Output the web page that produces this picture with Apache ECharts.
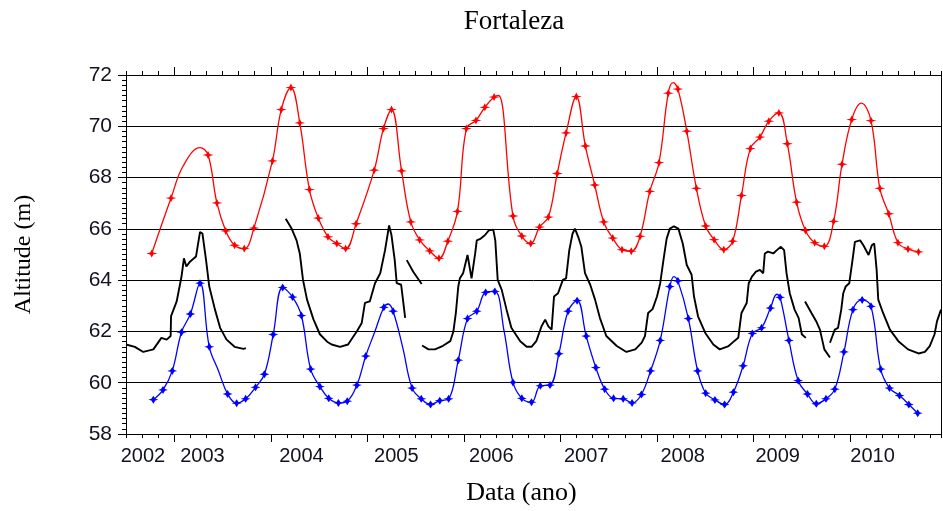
<!DOCTYPE html>
<html>
<head>
<meta charset="utf-8">
<script src="https://cdn.jsdelivr.net/npm/echarts@6/dist/echarts.min.js"></script>
<style>
html,body{margin:0;padding:0;background:#fff;}
#chart{width:943px;height:511px;}
</style>
</head>
<body>
<div id="chart"></div>
<script>
// x values: months counted from January 2002 (12 = Jan 2003, 24 = Jan 2004, ...)
const yearTickMonths = [12, 24, 36, 48, 60, 72, 84, 96];
const yearLabels = ['2002', '2003', '2004', '2005', '2006', '2007', '2008', '2009', '2010'];
const yearLabelMonths = [8.1, 15.5, 27.8, 39.6, 51.4, 63.2, 75.2, 87.0, 98.8];
const yTicks = [58, 60, 62, 64, 66, 68, 70, 72];

// red series: marked readings
const redMonths = [9.2, 11.6, 16.2, 17.3, 18.4, 19.5, 20.7, 21.9, 24.2, 25.3, 26.5, 27.6, 28.8, 29.9, 31.1, 32.2, 33.3, 34.6, 36.85, 38.0, 39.0, 40.25, 41.4, 42.5, 43.76, 44.9, 46.0, 47.2, 48.3, 49.5, 50.6, 51.75, 54.1, 55.2, 56.3, 57.4, 58.5, 59.6, 60.7, 61.97, 63.1, 64.26, 65.38, 66.5, 67.65, 68.8, 69.9, 71.1, 72.25, 73.4, 74.6, 75.7, 76.9, 78.05, 79.1, 80.3, 81.4, 82.5, 83.6, 84.8, 85.9, 87.15, 88.2, 89.35, 90.45, 91.6, 92.8, 93.95, 95.0, 96.2, 98.6, 99.7, 100.8, 101.95, 103.2, 104.5];
const redValues = [65.04, 67.2, 68.88, 67.01, 65.92, 65.36, 65.23, 66.03, 68.65, 70.65, 71.51, 70.13, 67.53, 66.42, 65.69, 65.43, 65.23, 66.2, 68.29, 69.91, 70.65, 68.26, 66.27, 65.57, 65.14, 64.85, 65.52, 66.68, 69.91, 70.23, 70.74, 71.14, 66.5, 65.72, 65.43, 66.07, 66.46, 68.16, 69.74, 71.16, 69.23, 67.71, 66.27, 65.64, 65.19, 65.13, 65.71, 67.46, 68.58, 71.29, 71.45, 69.81, 67.58, 66.11, 65.58, 65.19, 65.52, 67.3, 69.13, 69.58, 70.2, 70.52, 69.32, 67.04, 65.94, 65.46, 65.32, 66.29, 68.52, 70.26, 70.22, 67.58, 66.59, 65.46, 65.21, 65.1];
// red series: unmarked points of the curve (peaks)
const redCurveMonths = [13.1, 15.2, 52.3, 74.0, 97.4];
const redCurveValues = [68.45, 69.17, 71.2, 71.7, 70.9];

// blue series: marked readings
const blueMonths = [9.4, 10.6, 11.75, 12.9, 14.0, 15.2, 16.35, 18.63, 19.75, 20.87, 22.1, 23.2, 24.3, 25.47, 26.7, 27.8, 28.95, 30.1, 31.2, 32.4, 33.5, 34.7, 35.8, 38.05, 39.2, 41.56, 42.7, 43.85, 45.0, 46.1, 47.3, 48.45, 49.6, 50.7, 51.84, 54.1, 55.2, 56.4, 57.5, 58.7, 59.8, 60.95, 62.07, 63.2, 64.4, 65.5, 66.6, 67.8, 68.9, 70.06, 71.2, 72.4, 73.6, 74.6, 75.9, 77.05, 78.05, 79.2, 80.4, 81.5, 82.7, 83.85, 85.0, 86.1, 87.3, 88.4, 89.55, 90.7, 91.8, 93.0, 94.1, 95.24, 96.36, 97.5, 98.6, 99.8, 100.9, 102.15, 103.3, 104.4];
const blueValues = [59.34, 59.72, 60.46, 61.97, 62.68, 63.88, 61.4, 59.56, 59.2, 59.37, 59.82, 60.33, 61.88, 63.71, 63.34, 62.62, 60.53, 59.85, 59.39, 59.21, 59.28, 59.91, 61.04, 62.94, 62.79, 59.79, 59.37, 59.15, 59.3, 59.37, 60.88, 62.5, 62.79, 63.52, 63.56, 60.01, 59.39, 59.24, 59.88, 59.91, 61.13, 62.79, 63.2, 61.82, 60.59, 59.75, 59.39, 59.37, 59.21, 59.54, 60.46, 61.65, 63.75, 63.97, 62.5, 60.46, 59.59, 59.33, 59.15, 59.63, 60.66, 61.92, 62.14, 62.91, 63.33, 61.65, 60.08, 59.56, 59.18, 59.37, 59.75, 61.2, 62.85, 63.23, 62.98, 60.53, 59.79, 59.5, 59.15, 58.81];
// blue series: unmarked points of the curve
const blueCurveMonths = [17.5, 36.95, 38.6, 40.4, 53.0, 74.1, 86.9];
const blueCurveValues = [60.46, 62.01, 63.07, 61.37, 62.0, 64.14, 63.45];

// black series (dense record); null = gap in the record
const blackMonths = [6.0, 7.1, 8.15, 9.4, 10.4, 11.05, 11.55, 11.6, 12.3, 12.9, 13.2, 13.5, 13.95, 14.7, 15.2, 15.5, 15.95, 16.35, 17.06, 17.7, 18.5, 19.5, 20.6, 20.9,
  23.0,
  25.85, 26.6, 27.2, 27.6, 28.0, 28.5, 29.3, 30.1, 31.0, 31.56, 32.6, 33.6, 34.7, 35.3, 35.7, 36.3, 36.95, 37.6, 38.2, 38.7, 39.0, 39.4, 39.65, 40.2, 40.7,
  40.8,
  40.9, 41.7, 42.75,
  42.78,
  42.8, 43.6, 44.4, 45.4, 46.3, 46.7, 47.0, 47.3, 47.5, 47.9, 48.45, 48.95, 49.4, 49.6, 50.1, 50.6, 51.1, 51.65, 51.9, 52.2, 52.7, 53.3, 53.9, 55.0, 55.8, 56.4, 57.0, 57.65, 58.1, 58.5, 58.9, 59.2, 59.7, 60.3, 60.7, 61.1, 61.5, 61.8, 62.2, 62.6, 63.05, 63.7, 64.3, 64.9, 65.7, 67.0, 68.2, 69.3, 70.1, 70.5, 70.9, 71.45, 72.0, 72.4, 72.8, 73.2, 73.6, 74.1, 74.65, 75.2, 75.7, 76.3, 76.6, 77.1, 78.0, 79.0, 79.8, 80.9, 81.7, 82.1, 82.5, 83.15, 83.4, 83.8, 84.3, 84.8, 85.2, 85.4, 85.8, 86.45, 86.9, 87.4, 87.8, 88.1, 88.5, 89.1, 89.6, 90.0, 90.5,
  90.45,
  90.4, 91.2, 91.8, 92.25, 92.8, 93.5,
  93.5,
  93.5, 94.1, 94.5, 94.9, 95.15, 95.45, 95.9, 96.3, 96.6, 97.25, 97.65, 98.3, 98.7, 99.0, 99.3, 99.5, 100.1, 100.95, 102.0, 103.2, 104.5, 105.3, 105.9, 106.5, 106.8, 107.3];
const blackValues = [61.49, 61.4, 61.2, 61.3, 61.75, 61.68, 61.82, 62.6, 63.17, 64.14, 64.85, 64.53, 64.72, 64.92, 65.88, 65.82, 64.78, 63.75, 62.85, 62.14, 61.68, 61.4, 61.32, 61.35,
  null,
  66.39, 66.0, 65.55, 65.04, 64.01, 63.24, 62.47, 61.89, 61.6, 61.49, 61.4, 61.49, 62.01, 62.33, 63.11, 63.17, 63.88, 64.27, 65.17, 66.13, 65.75, 64.78, 63.88, 63.82, 62.53,
  null,
  64.78, 64.33, 63.85,
  null,
  61.45, 61.3, 61.3, 61.44, 61.62, 62.01, 62.72, 63.75, 64.07, 64.27, 64.98, 64.07, 65.04, 65.55, 65.62, 65.75, 65.94, 65.97, 65.55, 64.01, 63.62, 62.85, 62.14, 61.62, 61.4, 61.4, 61.62, 62.2, 62.46, 62.2, 62.07, 63.36, 63.49, 64.01, 64.07, 65.17, 65.81, 66.01, 65.69, 65.3, 64.27, 63.82, 63.24, 62.53, 61.82, 61.43, 61.2, 61.3, 61.56, 61.82, 62.72, 62.87, 63.36, 63.88, 64.78, 65.62, 66.01, 66.1, 66.01, 65.43, 64.59, 64.21, 63.36, 62.59, 61.94, 61.49, 61.3, 61.43, 61.65, 61.75, 62.72, 63.11, 63.88, 64.14, 64.33, 64.4, 64.27, 65.04, 65.11, 65.04, 65.17, 65.3, 65.17, 64.27, 63.49, 62.85, 62.53, 61.89, 61.75,
  null,
  63.17, 62.72, 62.39, 62.07, 61.3, 60.98,
  null,
  61.56, 62.07, 62.14, 62.85, 63.49, 63.75, 63.88, 64.78, 65.49, 65.55, 65.36, 64.98, 65.36, 65.43, 64.4, 63.24, 62.72, 62.07, 61.62, 61.3, 61.14, 61.2, 61.43, 61.89, 62.39, 62.85];

const X_MIN = 6, X_MAX = 107.3;

function mergeCurve(ms, vs, cms, cvs) {
  const a = ms.map((m, i) => ({ value: [m, vs[i]] }));
  const b = cms.map((m, i) => ({ value: [m, cvs[i]], symbol: 'none' }));
  return a.concat(b).sort((p, q) => p.value[0] - q.value[0]);
}

const labelFont = { fontFamily: 'Liberation Sans', fontSize: 20, color: '#111122' };
const axisLineStyle = { lineStyle: { color: '#000', width: 1 } };

const chart = echarts.init(document.getElementById('chart'), null, { renderer: 'canvas' });
chart.setOption({
  animation: false,
  backgroundColor: '#fff',
  title: {
    text: 'Fortaleza', left: 509, top: 3, textAlign: 'center',
    textStyle: { fontFamily: 'Liberation Serif', fontSize: 27, fontWeight: 'normal', color: '#000' }
  },
  grid: { left: 126, top: 75, right: 2, bottom: 74 },
  xAxis: [
    { type: 'value', position: 'bottom', min: X_MIN, max: X_MAX, interval: 2,
      axisLine: axisLineStyle, axisTick: { length: 4, lineStyle: { color: '#000' } },
      axisLabel: { show: false }, splitLine: { show: false },
      name: 'Data (ano)', nameLocation: 'middle', nameGap: 46,
      nameTextStyle: { fontFamily: 'Liberation Serif', fontSize: 26, color: '#000', padding: [0, 24, 0, 0] } },
    { type: 'value', position: 'bottom', min: X_MIN, max: X_MAX,
      axisLine: axisLineStyle,
      axisTick: { customValues: yearTickMonths, length: 8, lineStyle: { color: '#000' } },
      axisLabel: Object.assign({ customValues: yearLabelMonths, margin: 12,
        formatter: v => yearLabels[Math.floor(v / 12)] }, labelFont),
      splitLine: { show: false } },
    { type: 'value', position: 'top', min: X_MIN, max: X_MAX, interval: 2,
      axisLine: axisLineStyle, axisTick: { length: 4, lineStyle: { color: '#000' } },
      axisLabel: { show: false }, splitLine: { show: false } },
    { type: 'value', position: 'top', min: X_MIN, max: X_MAX,
      axisLine: axisLineStyle,
      axisTick: { customValues: yearTickMonths, length: 8, lineStyle: { color: '#000' } },
      axisLabel: { show: false }, splitLine: { show: false } }
  ],
  yAxis: [
    { type: 'value', position: 'left', min: yTicks[0], max: yTicks[yTicks.length - 1], interval: 2,
      axisLine: { show: true, lineStyle: { color: '#000', width: 1 } },
      axisTick: { show: true, length: 8, lineStyle: { color: '#000' } },
      minorTick: { show: true, splitNumber: 10, length: 4, lineStyle: { color: '#000' } },
      axisLabel: Object.assign({ margin: 14 }, labelFont, { fontSize: 21 }),
      splitLine: { show: true, lineStyle: { color: '#000', width: 1 } },
      name: 'Altitude (m)', nameLocation: 'middle', nameGap: 90, nameRotate: 90,
      nameTextStyle: { fontFamily: 'Liberation Serif', fontSize: 24, color: '#000' } },
    { type: 'value', position: 'right', min: yTicks[0], max: yTicks[yTicks.length - 1],
      axisLine: { show: true, lineStyle: { color: '#000', width: 1 } },
      axisTick: { show: false }, axisLabel: { show: false }, splitLine: { show: false } }
  ],
  series: [
    { name: 'black', type: 'line', xAxisIndex: 0, yAxisIndex: 0,
      data: blackMonths.map((m, i) => [m, blackValues[i] === null ? '-' : blackValues[i]]),
      showSymbol: false, connectNulls: false,
      lineStyle: { color: '#000', width: 1.9 }, itemStyle: { color: '#000' } },
    { name: 'red', type: 'line', xAxisIndex: 0, yAxisIndex: 0,
      data: mergeCurve(redMonths, redValues, redCurveMonths, redCurveValues),
      smooth: 0.4, showSymbol: true,
      symbol: 'path://M0,5L3.5,4.2L5,1.5L6.5,4.2L10,5L6.5,5.8L5,8.5L3.5,5.8Z', symbolSize: [11, 8],
      lineStyle: { color: '#ff0000', width: 1.3 }, itemStyle: { color: '#ff0000' } },
    { name: 'blue', type: 'line', xAxisIndex: 0, yAxisIndex: 0,
      data: mergeCurve(blueMonths, blueValues, blueCurveMonths, blueCurveValues),
      smooth: 0.4, showSymbol: true,
      symbol: 'path://M0,5L3,4L5,0.5L7,4L10,5L7,6L5,9.5L3,6Z', symbolSize: [10, 8],
      lineStyle: { color: '#0000ff', width: 1.3 }, itemStyle: { color: '#0000ff' } }
  ]
});
</script>
</body>
</html>
